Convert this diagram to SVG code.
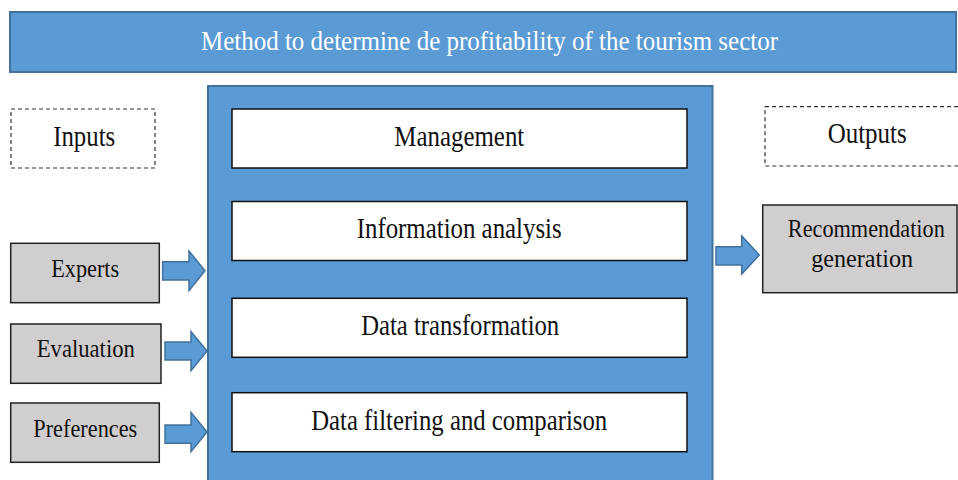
<svg xmlns="http://www.w3.org/2000/svg" width="958" height="480" viewBox="0 0 958 480">
<style>
text{font-family:"Liberation Serif","Times New Roman","DejaVu Serif",serif;text-anchor:middle;fill:#111}
.blue{fill:#5B9BD5;stroke:#41719C;stroke-width:2}
.white{fill:#fff;stroke:#111;stroke-width:1.5}
.grey{fill:#D0CECE;stroke:#222;stroke-width:1.5}
.dash{fill:#fff;stroke:#333;stroke-width:1.2;stroke-dasharray:4 3}
.arrow{fill:#5B9BD5;stroke:#41719C;stroke-width:1.5;stroke-linejoin:miter}
.lg{font-size:29px}
.md{font-size:26px}
</style>
<rect width="958" height="480" fill="#fff"/>
<g id="title">
<rect class="blue" x="10" y="12" width="946" height="60"/>
<text x="489.5" y="50" font-size="28" style="fill:#fff" textLength="577" lengthAdjust="spacingAndGlyphs">Method to determine de profitability of the tourism sector</text>
</g>
<g id="panel">
<rect class="blue" x="208" y="86" width="504.5" height="404"/>
</g>
<g id="management">
<rect class="white" x="232" y="109" width="455" height="59"/>
<text class="lg" x="459.3" y="146" textLength="130" lengthAdjust="spacingAndGlyphs">Management</text>
</g>
<g id="information-analysis">
<rect class="white" x="232" y="201.5" width="455" height="59"/>
<text class="lg" x="459.2" y="238.3" textLength="205" lengthAdjust="spacingAndGlyphs">Information analysis</text>
</g>
<g id="data-transformation">
<rect class="white" x="232" y="298.3" width="455" height="59"/>
<text class="lg" x="460.2" y="335" textLength="198" lengthAdjust="spacingAndGlyphs">Data transformation</text>
</g>
<g id="data-filtering">
<rect class="white" x="232" y="392.7" width="455" height="59"/>
<text class="lg" x="459.2" y="429.7" textLength="296" lengthAdjust="spacingAndGlyphs">Data filtering and comparison</text>
</g>
<g id="inputs">
<rect class="dash" x="11" y="109" width="144" height="59"/>
<text class="lg" x="84.2" y="145.7" textLength="62" lengthAdjust="spacingAndGlyphs">Inputs</text>
</g>
<g id="outputs">
<rect class="dash" x="765" y="106.7" width="200" height="59.3"/>
<text class="lg" x="867.2" y="143.3" textLength="79" lengthAdjust="spacingAndGlyphs">Outputs</text>
</g>
<g id="experts">
<rect class="grey" x="10.7" y="243.3" width="148.6" height="59.4"/>
<text class="md" x="85.2" y="277.3" textLength="68" lengthAdjust="spacingAndGlyphs">Experts</text>
</g>
<g id="evaluation">
<rect class="grey" x="10.7" y="324" width="150.3" height="59.3"/>
<text class="md" x="85.8" y="357.3" textLength="98" lengthAdjust="spacingAndGlyphs">Evaluation</text>
</g>
<g id="preferences">
<rect class="grey" x="10.7" y="403" width="148.6" height="59.3"/>
<text class="md" x="85.3" y="436.7" textLength="104" lengthAdjust="spacingAndGlyphs">Preferences</text>
</g>
<g id="recommendation-generation">
<rect class="grey" x="762.7" y="205" width="194.3" height="87.7"/>
<text x="866.3" y="237.3" font-size="25" textLength="157" lengthAdjust="spacingAndGlyphs">Recommendation</text>
<text x="862.2" y="266.7" font-size="25" textLength="102" lengthAdjust="spacingAndGlyphs">generation</text>
</g>
<g id="connectors">
<polygon class="arrow" points="162.7,261.7 189,261.7 189,251 205,270.7 189,290.7 189,280 162.7,280"/>
<polygon class="arrow" points="165,342 191,342 191,331.7 207,351 191,370.7 191,360 165,360"/>
<polygon class="arrow" points="165,425 191,425 191,412.3 207,432 191,451.7 191,443.3 165,443.3"/>
<polygon class="arrow" points="716,246.7 741.7,246.7 741.7,236 759.3,255 741.7,274 741.7,265 716,265"/>
</g>
</svg>
